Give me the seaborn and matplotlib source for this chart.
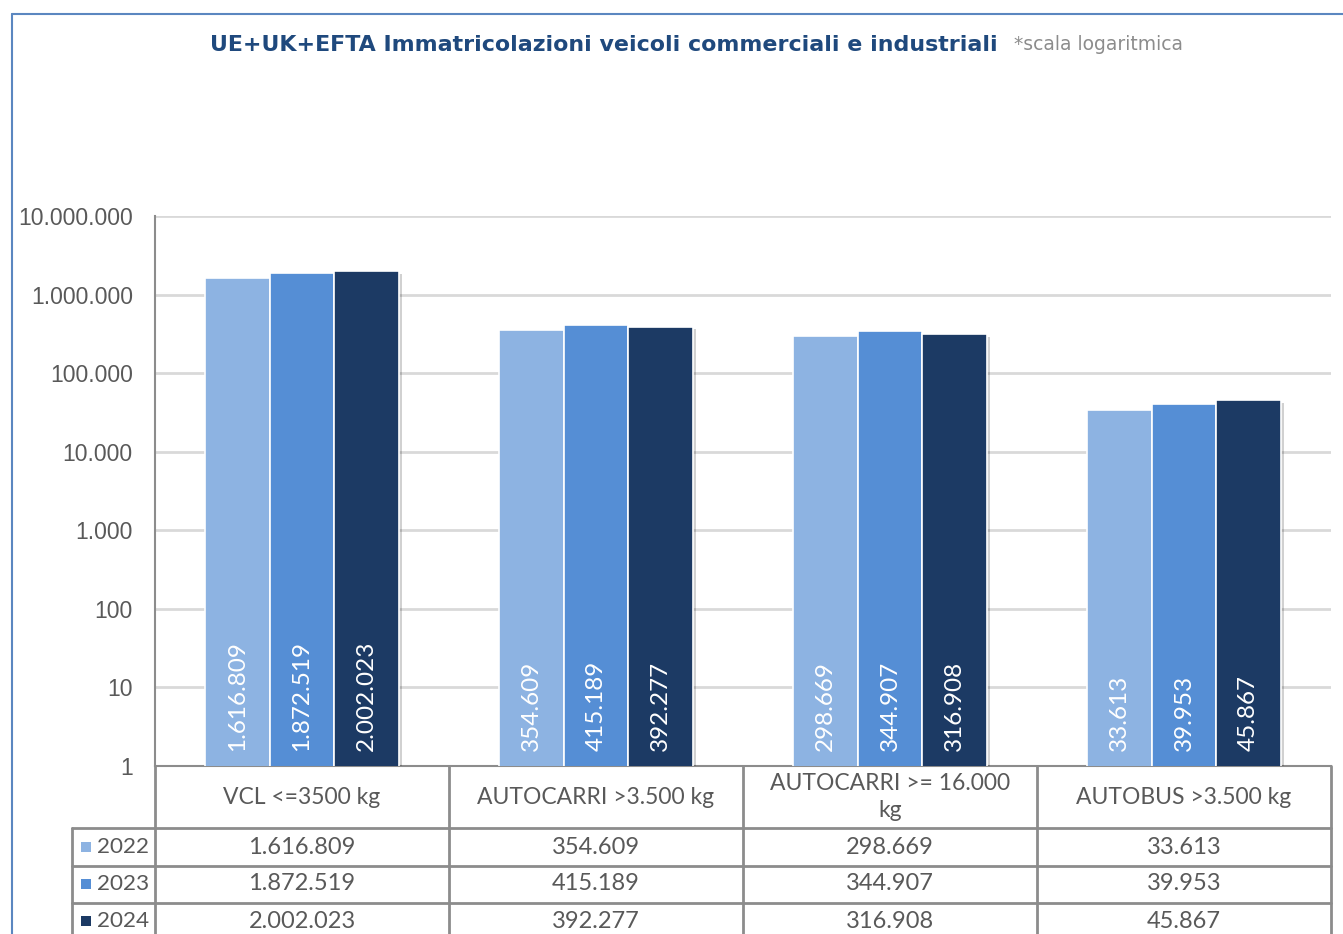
import numpy as np
import pandas as pd
import matplotlib
matplotlib.use("Agg")
import matplotlib.pyplot as plt
import matplotlib.patheffects as pe
from matplotlib.lines import Line2D
from matplotlib.patches import Rectangle
from matplotlib.ticker import FuncFormatter, FixedLocator, NullLocator
import seaborn as sns

# ---------------- data ----------------
categories = ["VCL <=3500 kg", "AUTOCARRI >3.500 kg", "AUTOCARRI >= 16.000 kg", "AUTOBUS >3.500 kg"]
header_labels = ["VCL <=3500 kg", "AUTOCARRI >3.500 kg", "AUTOCARRI >= 16.000\nkg", "AUTOBUS >3.500 kg"]
years = ["2022", "2023", "2024"]
values_2022 = [1616809, 354609, 298669, 33613]
values_2023 = [1872519, 415189, 344907, 39953]
values_2024 = [2002023, 392277, 316908, 45867]
y_ticks = [1, 10, 100, 1000, 10000, 100000, 1000000, 10000000]
colors = ["#8DB3E2", "#558ED5", "#1C3A64"]

title = "UE+UK+EFTA Immatricolazioni veicoli commerciali e industriali"
subtitle = "*scala logaritmica"

series = {"2022": values_2022, "2023": values_2023, "2024": values_2024}
df = pd.DataFrame([
    {"cat": c, "year": y, "val": v}
    for y in years for c, v in zip(categories, series[y])
])

def fmt_it(v):
    return f"{int(round(v)):,}".replace(",", ".")

# ---------------- figure ----------------
W, H = 1343, 934
sns.set_style("white")
plt.rcParams["font.family"] = ["Lato", "DejaVu Sans"]
fig = plt.figure(figsize=(W / 100, H / 100), dpi=100)

ax_left, ax_right, ax_top, ax_bot = 155, 1331, 216, 766
ax = fig.add_axes([ax_left / W, 1 - ax_bot / H, (ax_right - ax_left) / W, (ax_bot - ax_top) / H])

sns.barplot(data=df, x="cat", y="val", hue="year", hue_order=years, order=categories,
            palette=colors, saturation=1, width=0.66, edgecolor="white", linewidth=1.2,
            ax=ax, legend=False, zorder=3)

ax.set_yscale("log")
ax.set_ylim(y_ticks[0], y_ticks[-1])
ax.set_xlim(-0.5, len(categories) - 0.5)
ax.yaxis.set_major_locator(FixedLocator(y_ticks))
ax.yaxis.set_minor_locator(NullLocator())
ax.yaxis.set_major_formatter(FuncFormatter(lambda v, p: fmt_it(v)))
ax.set_xlabel("")
ax.set_ylabel("")
ax.xaxis.label.set_visible(False)
ax.yaxis.label.set_visible(False)
ax.set_xticks([])
ax.grid(axis="y", color="#D9D9D9", linewidth=2, zorder=0)
ax.set_axisbelow(True)
for s in ["top", "right"]:
    ax.spines[s].set_visible(False)
ax.spines["left"].set_color("#8C8C8C")
ax.spines["left"].set_linewidth(1.5)
ax.spines["bottom"].set_color("#8C8C8C")
ax.spines["bottom"].set_linewidth(1.5)
ax.tick_params(axis="y", direction="out", length=5, width=1.5, color="#8C8C8C",
               pad=11, labelsize=16.5, labelcolor="#595959")
for lab in ax.get_yticklabels():
    lab.set_fontfamily(["Liberation Sans", "DejaVu Sans"])

# shadows + value labels inside bars
for container, y in zip(ax.containers, years):
    for patch, v in zip(container.patches, series[y]):
        patch.set_path_effects([pe.SimplePatchShadow(offset=(2, -2), alpha=0.18, shadow_rgbFace="#000000"), pe.Normal()])
        cx = patch.get_x() + patch.get_width() / 2
        ax.text(cx, 1.55, fmt_it(v), rotation=90, ha="center", va="bottom",
                color="white", fontsize=17.5, zorder=5)

# ---------------- data table ----------------
def yf(px):
    return -(px - ax_bot) / (ax_bot - ax_top)

trans = ax.get_xaxis_transform()
line_kw = dict(color="#8C8C8C", linewidth=2, transform=trans, clip_on=False, zorder=6)
leg_left = -0.5 - (ax_left - 72) / ((ax_right - ax_left) / len(categories))
row_tops = [828, 866, 903, 941]
ncat = len(categories)

# vertical lines
for i in range(ncat + 1):
    xb = i - 0.5
    ax.add_line(Line2D([xb, xb], [yf(ax_bot), yf(960)], **line_kw))
ax.add_line(Line2D([leg_left, leg_left], [yf(828), yf(960)], **line_kw))
# horizontal lines
for r in row_tops[:3]:
    ax.add_line(Line2D([leg_left, ncat - 0.5], [yf(r), yf(r)], **line_kw))

# header
for i, lab in enumerate(header_labels):
    ax.text(i, yf(797), lab, ha="center", va="center", fontsize=16.5, color="#595959",
            linespacing=1.35, transform=trans, clip_on=False)

# rows
row_centers = [847, 884, 921]
for r, (y, col) in enumerate(zip(years, colors)):
    yc = yf(row_centers[r])
    for i, v in enumerate(series[y]):
        ax.text(i, yc, fmt_it(v), ha="center", va="center", fontsize=17,
                color="#595959", transform=trans, clip_on=False)
    # legend key
    ax.add_patch(Rectangle((leg_left + 9 / 294, yc - 5 / 550), 10 / 294, 10 / 550,
                           facecolor=col, edgecolor="none", transform=trans, clip_on=False))
    ax.text(leg_left + 25 / 294, yc, y, ha="left", va="center", fontsize=16.2,
            color="#595959", transform=trans, clip_on=False)

# ---------------- outer frame ----------------
fig.add_artist(Line2D([12 / W, 12 / W], [1 - 14 / H, 0], color="#5B87C0", linewidth=1.5))
fig.add_artist(Line2D([12 / W, 1], [1 - 14 / H, 1 - 14 / H], color="#5B87C0", linewidth=1.5))

# ---------------- title ----------------
t = fig.text(210 / W, 1 - 45 / H, title, ha="left", va="center", fontsize=15.9,
             fontweight="bold", color="#1F497D", family=["DejaVu Sans"])
ax.annotate(subtitle, xy=(1, 0.5), xycoords=t, xytext=(12, 0), textcoords="offset points",
            ha="left", va="center", fontsize=13.5, color="#8C8C8C", annotation_clip=False,
            family=["DejaVu Sans"])

fig.savefig("out.png", dpi=100)
